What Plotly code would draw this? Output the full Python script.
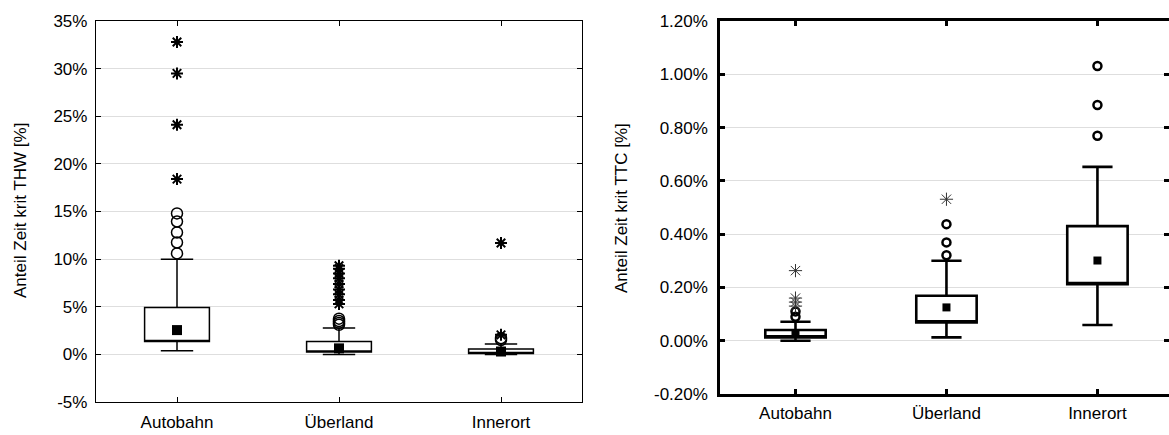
import plotly.graph_objects as go

W, H = 1169, 435
cats = ["Autobahn", "Überland", "Innerort"]
xpos = [0, 1, 2]

# ---- left panel: THW (%) ----
thw_q1 = [1.36, 0.24, 0.10]
thw_q3 = [4.93, 1.36, 0.56]
thw_low = [0.38, 0.0, 0.0]
thw_up = [10.0, 2.76, 1.08]
thw_center = [2.55, 0.63, 0.30]
thw_out_auto = [14.8, 13.95, 12.8, 11.75, 10.6]
thw_ext_auto = [32.8, 29.5, 24.1, 18.4]
thw_out_uber = [3.75, 3.5, 3.3, 3.1]
thw_ext_uber = [9.3, 9.0, 8.5, 8.0, 7.4, 6.8, 6.3, 5.7, 5.3]
thw_out_inner = [1.7, 1.5]
thw_ext_inner = [11.7, 2.05]

# ---- right panel: TTC (%) ----
ttc_q1 = [0.0125, 0.069, 0.2125]
ttc_q3 = [0.040, 0.169, 0.430]
ttc_low = [0.0, 0.0125, 0.059]
ttc_up = [0.071, 0.300, 0.6525]
ttc_center = [0.028, 0.125, 0.301]
ttc_out_auto = [0.11, 0.09]
ttc_ext_auto = [0.263, 0.16, 0.145, 0.13]
ttc_out_uber = [0.4375, 0.369, 0.321]
ttc_ext_uber = [0.531]
ttc_out_inner = [1.031, 0.885, 0.769]
ttc_ext_inner = []

fig = go.Figure()

def add_panel(q1, q3, low, up, center, outs, exts, xa, ya, lw, msq, mc, mcw, mst, mstw, stcol):
    fig.add_trace(go.Box(
        x=xpos, q1=q1, median=q1, q3=q3, lowerfence=low, upperfence=up,
        width=0.4, whiskerwidth=0.5, fillcolor="white",
        line=dict(color="black", width=lw), boxpoints=False,
        xaxis=xa, yaxis=ya, showlegend=False, hoverinfo="skip"))
    for i, (o, e) in enumerate(zip(outs, exts)):
        if o:
            fig.add_trace(go.Scatter(
                x=[xpos[i]] * len(o), y=o, mode="markers", xaxis=xa, yaxis=ya,
                marker=dict(symbol="circle-open", size=mc, color="black",
                            line=dict(width=mcw, color="black")),
                showlegend=False, hoverinfo="skip"))
        if e:
            fig.add_trace(go.Scatter(
                x=[xpos[i]] * len(e), y=e, mode="markers", xaxis=xa, yaxis=ya,
                marker=dict(symbol="asterisk-open", size=mst, color=stcol,
                            line=dict(width=mstw, color=stcol)),
                showlegend=False, hoverinfo="skip"))
    fig.add_trace(go.Scatter(
        x=xpos, y=center, mode="markers", xaxis=xa, yaxis=ya,
        marker=dict(symbol="square", size=msq, color="black"),
        showlegend=False, hoverinfo="skip"))

add_panel(thw_q1, thw_q3, thw_low, thw_up, thw_center,
          [thw_out_auto, thw_out_uber, thw_out_inner],
          [thw_ext_auto, thw_ext_uber, thw_ext_inner],
          "x", "y", 1.5, 10, 11, 1.5, 10, 2, "black")
add_panel(ttc_q1, ttc_q3, ttc_low, ttc_up, ttc_center,
          [ttc_out_auto, ttc_out_uber, ttc_out_inner],
          [ttc_ext_auto, ttc_ext_uber, ttc_ext_inner],
          "x2", "y2", 2.6, 8, 8, 2.5, 11, 1, "#333333")

font = "Liberation Sans, Arial, sans-serif"
gridc = "#dedede"

common_x = dict(tickmode="array", tickvals=xpos, ticktext=cats, ticks="inside",
                ticklen=5, showgrid=False, zeroline=False, showline=True,
                linecolor="black", mirror="allticks", automargin=False,
                tickfont=dict(family=font, size=17, color="black"))
common_y = dict(ticks="inside", ticklen=5, showgrid=True, gridcolor=gridc,
                zeroline=False, showline=True, linecolor="black",
                mirror="allticks", automargin=False,
                tickfont=dict(family=font, size=17, color="black"))

fig.update_layout(
    width=W, height=H, margin=dict(l=0, r=0, t=0, b=0),
    paper_bgcolor="white", plot_bgcolor="white",
    xaxis=dict(common_x, domain=[96 / W, 582 / W], range=[-0.5, 2.5],
               linewidth=1.3, tickcolor="black", tickwidth=1.3, anchor="y",
               ticklabelstandoff=4),
    yaxis=dict(common_y, domain=[(H - 402) / H, (H - 21) / H], range=[-5, 35],
               tickvals=[-5, 0, 5, 10, 15, 20, 25, 30, 35],
               ticktext=["-5%", "0%", "5%", "10%", "15%", "20%", "25%", "30%", "35%"],
               linewidth=1.3, tickcolor="black", tickwidth=1.3, anchor="x",
               ticklabelstandoff=4),
    xaxis2=dict(common_x, domain=[720 / W, 1.0], range=[-0.5, 2.474],
                linewidth=2.5, tickcolor="black", tickwidth=2.5, anchor="y2",
                ticklabelstandoff=2),
    yaxis2=dict(common_y, domain=[(H - 394) / H, (H - 21) / H], range=[-0.2, 1.2],
                tickvals=[-0.2, 0, 0.2, 0.4, 0.6, 0.8, 1.0, 1.2],
                ticktext=["-0.20%", "0.00%", "0.20%", "0.40%", "0.60%", "0.80%", "1.00%", "1.20%"],
                linewidth=2.5, tickcolor="black", tickwidth=2.5, anchor="x2",
                ticklabelstandoff=6),
    annotations=[
        dict(text="Anteil Zeit krit THW [%]", textangle=-90, xref="paper", yref="paper",
             x=20 / W, y=(H - 211) / H, showarrow=False, xanchor="center", yanchor="middle",
             font=dict(family=font, size=17, color="black")),
        dict(text="Anteil Zeit krit TTC [%]", textangle=-90, xref="paper", yref="paper",
             x=621 / W, y=(H - 208) / H, showarrow=False, xanchor="center", yanchor="middle",
             font=dict(family=font, size=17, color="black")),
    ],
)

fig.write_html("out.html")
